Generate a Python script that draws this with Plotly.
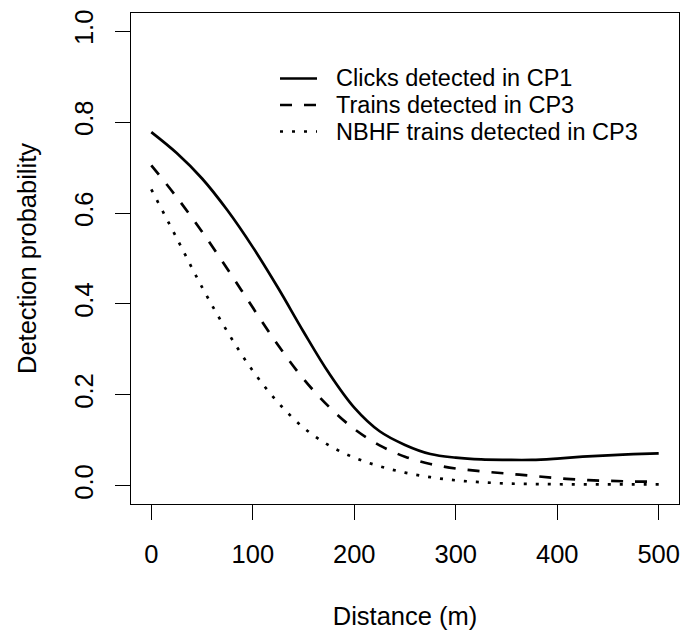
import plotly.graph_objects as go

distance = [0, 25, 50, 75, 100, 125, 150, 175, 200, 225, 250, 275, 300,
            325, 350, 375, 400, 425, 450, 475, 500]
clicks_cp1 = [0.778, 0.732, 0.676, 0.606, 0.525, 0.435, 0.339, 0.248, 0.172,
              0.120, 0.090, 0.070, 0.062, 0.058, 0.057, 0.057, 0.060, 0.064,
              0.067, 0.0695, 0.0715]
trains_cp3 = [0.705, 0.635, 0.559, 0.477, 0.392, 0.309, 0.235, 0.174, 0.125,
              0.089, 0.064, 0.048, 0.038, 0.032, 0.027, 0.022, 0.017, 0.013,
              0.011, 0.0095, 0.009]
nbhf_cp3 = [0.652, 0.545, 0.437, 0.339, 0.253, 0.183, 0.128, 0.089, 0.062,
            0.043, 0.029, 0.019, 0.012, 0.008, 0.005, 0.004, 0.0035, 0.003,
            0.003, 0.003, 0.003]
series_names = ["Clicks detected in CP1", "Trains detected in CP3",
                "NBHF trains detected in CP3"]
x_ticks = [0, 100, 200, 300, 400, 500]
y_ticks = [0.0, 0.2, 0.4, 0.6, 0.8, 1.0]
y_tick_labels = ["0.0", "0.2", "0.4", "0.6", "0.8", "1.0"]

FONT = "Liberation Sans, Arial, sans-serif"
FS = 25.5
LEG_FS = 23.5
dashes = ["solid", "12px,12px", "3px,9px"]
LW = 2.7

fig = go.Figure()
for name, vals, dash in zip(series_names, [clicks_cp1, trains_cp3, nbhf_cp3], dashes):
    fig.add_trace(go.Scatter(
        x=distance, y=vals, mode="lines", name=name,
        line=dict(color="black", width=LW, dash=dash, shape="spline", smoothing=1.0),
        showlegend=False,
    ))

# manual legend (R-style, compact rows)
L, R, T, B = 131, 679, 13, 504
W, H = R - L, B - T
def px(xp):
    return (xp - L) / W
def py(yp):
    return (B - yp) / H
rows = [78.5, 105, 131.5]
for name, dash, yr in zip(series_names, dashes, rows):
    fig.add_shape(type="line", xref="paper", yref="paper",
                  x0=px(280), x1=px(317), y0=py(yr), y1=py(yr),
                  line=dict(color="black", width=LW, dash=dash))
    fig.add_annotation(xref="paper", yref="paper", x=px(334), y=py(yr),
                       text=name, showarrow=False, xanchor="left", yanchor="middle",
                       font=dict(family=FONT, size=LEG_FS, color="black"))

axis_common = dict(
    showline=True, linecolor="black", linewidth=1, mirror=True,
    ticks="outside", ticklen=15, tickwidth=1, tickcolor="black",
    showgrid=False, zeroline=False,
    tickfont=dict(family=FONT, size=FS, color="black"),
)
fig.update_xaxes(range=[-20, 520], tickvals=x_ticks, ticktext=[str(v) for v in x_ticks],
                 ticklabelstandoff=12,
                 title=dict(text="Distance (m)", font=dict(family=FONT, size=FS, color="black"),
                            standoff=40),
                 **axis_common)
fig.update_yaxes(range=[-0.04, 1.04], tickvals=y_ticks, ticktext=y_tick_labels,
                 tickangle=-90, ticklabelstandoff=12,
                 title=dict(text="Detection probability",
                            font=dict(family=FONT, size=FS, color="black"), standoff=25),
                 **axis_common)
fig.update_layout(
    width=681, height=632,
    margin=dict(l=L, r=681 - R, t=T, b=632 - B),
    plot_bgcolor="white", paper_bgcolor="white",
    font=dict(family=FONT, size=FS, color="black"),
)
fig.write_html("out.html")
